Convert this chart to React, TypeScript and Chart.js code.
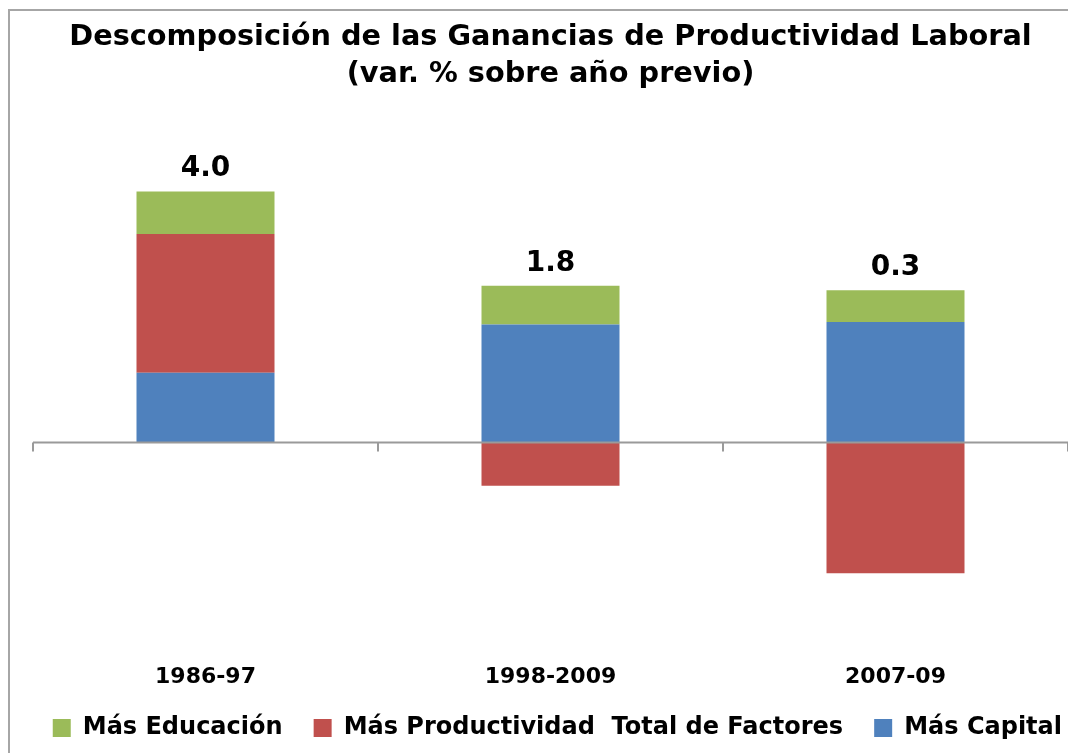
import React, { useEffect, useRef } from "react";
import { Chart, registerables } from "chart.js";

Chart.register(...registerables);

const categories = ["1986-97", "1998-2009", "2007-09"];
const masCapital = [1.11, 1.88, 1.92];
const masPTF = [2.22, -0.7, -2.1];
const masEducacion = [0.68, 0.62, 0.51];
const totals = [4.0, 1.8, 0.3];

const titleLines = [
  "Descomposición de las Ganancias de Productividad Laboral",
  "(var. % sobre año previo)",
];

const FONT = "'DejaVu Sans', sans-serif";
const GAP = "   ";

const framePlugin = {
  id: "frame",
  beforeDraw(chart: any) {
    const ctx = chart.ctx;
    ctx.save();
    ctx.fillStyle = "#ffffff";
    ctx.fillRect(0, 0, chart.width, chart.height);
    ctx.strokeStyle = "#a6a6a6";
    ctx.lineWidth = 2;
    ctx.beginPath();
    ctx.moveTo(9, chart.height);
    ctx.lineTo(9, 10);
    ctx.lineTo(chart.width, 10);
    ctx.stroke();
    ctx.restore();
  },
};

const axisPlugin = {
  id: "zeroAxis",
  afterDatasetsDraw(chart: any) {
    const ctx = chart.ctx;
    const x = chart.scales.x;
    const y = chart.scales.y;
    const y0 = Math.round(y.getPixelForValue(0)) + 0.5;
    ctx.save();
    ctx.strokeStyle = "#9a9a9a";
    ctx.lineWidth = 2;
    ctx.beginPath();
    ctx.moveTo(x.left, y0);
    ctx.lineTo(x.right, y0);
    const n = categories.length;
    for (let i = 0; i <= n; i++) {
      const px = Math.round(x.left + ((x.right - x.left) * i) / n);
      ctx.moveTo(px, y0);
      ctx.lineTo(px, y0 + 9);
    }
    ctx.stroke();

    ctx.fillStyle = "#000000";
    ctx.font = `bold 28px ${FONT}`;
    ctx.textAlign = "center";
    ctx.textBaseline = "alphabetic";
    categories.forEach((_, i) => {
      let pos = 0;
      chart.data.datasets.forEach((ds: any) => {
        const v = ds.data[i];
        if (v > 0) pos += v;
      });
      const px = x.getPixelForValue(i);
      const py = y.getPixelForValue(pos);
      ctx.fillText(totals[i].toFixed(1), px, py - 15);
    });
    ctx.restore();
  },
};

export default function App() {
  const ref = useRef<HTMLCanvasElement | null>(null);

  useEffect(() => {
    if (!ref.current) return;
    const chart = new Chart(ref.current, {
      type: "bar",
      data: {
        labels: categories,
        datasets: [
          {
            label: "Más Capital",
            data: masCapital,
            backgroundColor: "#4F81BD",
            borderWidth: 0,
          },
          {
            label: "Más Productividad  Total de Factores" + GAP,
            data: masPTF,
            backgroundColor: "#C0504D",
            borderWidth: 0,
          },
          {
            label: "Más Educación" + GAP,
            data: masEducacion,
            backgroundColor: "#9BBB59",
            borderWidth: 0,
          },
        ],
      },
      options: {
        responsive: false,
        animation: false,
        devicePixelRatio: 1,
        layout: { padding: { left: 33, right: 0, top: 19.5, bottom: 3 } },
        datasets: {
          bar: { categoryPercentage: 1, barPercentage: 0.4 },
        },
        scales: {
          x: {
            stacked: true,
            grid: { display: false, drawTicks: false },
            border: { display: false },
            ticks: {
              padding: 45.3,
              color: "#000000",
              font: { family: FONT, size: 22, weight: "bold", lineHeight: 0.2 },
            },
            afterFit(scale: any) {
              scale.height = 80.5;
            },
          },
          y: {
            stacked: true,
            display: false,
            min: -3,
            max: 5,
          },
        },
        plugins: {
          title: {
            display: true,
            text: titleLines,
            color: "#000000",
            font: { family: FONT, size: 28.75, weight: "bold", lineHeight: 1.287 },
            padding: { top: 0, bottom: 36 },
          },
          legend: {
            display: true,
            position: "bottom",
            align: "end",
            reverse: true,
            labels: {
              boxWidth: 18,
              boxHeight: 18,
              padding: 6,
              color: "#000000",
              font: { family: FONT, size: 24, weight: "bold", lineHeight: 1.2 },
            },
          },
          tooltip: { enabled: false },
        },
      },
      plugins: [framePlugin, axisPlugin],
    });
    return () => chart.destroy();
  }, []);

  return (
    <div style={{ position: "fixed", left: 0, top: 0, width: 1068, height: 753 }}>
      <canvas ref={ref} width={1068} height={753} style={{ display: "block" }} />
    </div>
  );
}
